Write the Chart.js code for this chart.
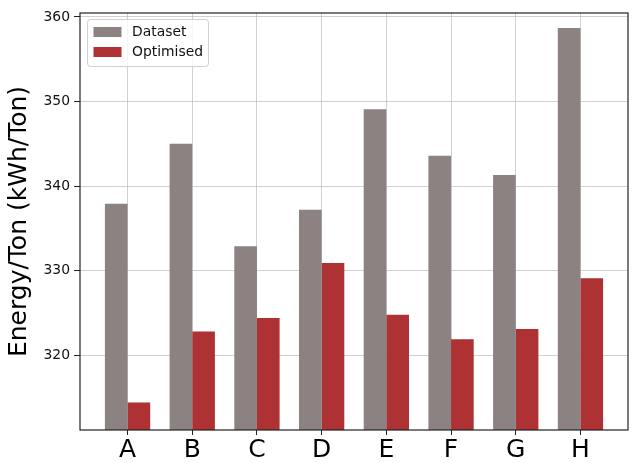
<!DOCTYPE html>
<html lang="en">
<head>
    <meta charset="UTF-8">
    <title>Energy per ton</title>
    <script src="https://cdn.jsdelivr.net/npm/chart.js"></script>
    <style>
        body { margin: 0; background: #fff; }
        canvas { display: block; }
    </style>
</head>
<body>
    <canvas id="grafico" width="634" height="463"></canvas>
    <script>
        // Sites and energy per ton, original vs optimised
        const categorias = ["A", "B", "C", "D", "E", "F", "G", "H"];
        const dataset = [337.9, 345.0, 332.9, 337.2, 349.1, 343.6, 341.3, 358.7];
        const optimised = [314.4, 322.8, 324.4, 330.9, 324.8, 321.9, 323.1, 329.1];
        const yTicks = [320, 330, 340, 350, 360];
        const yMin = 311.16, yMax = 360.47;

        const fuente = "'DejaVu Sans', sans-serif";
        const colorGris = "rgb(139,130,129)";
        const colorRojo = "rgb(174,49,52)";

        // puntos {x, y} para el eje x lineal
        const puntos = arr => arr.map((v, i) => ({ x: i, y: v }));

        // marco de los ejes y leyenda dentro del área
        const marcoYLeyenda = {
            id: "marcoYLeyenda",
            afterDatasetsDraw(chart) {
                const ctx = chart.ctx;
                const a = chart.chartArea;
                ctx.save();
                ctx.strokeStyle = "#222";
                ctx.lineWidth = 1.2;
                ctx.strokeRect(a.left, a.top, a.right - a.left, a.bottom - a.top);

                // caja de la leyenda
                const bx = a.left + 7, by = a.top + 6, bw = 121, bh = 47;
                ctx.beginPath();
                ctx.roundRect(bx + 0.5, by + 0.5, bw, bh, 3);
                ctx.fillStyle = "rgba(255,255,255,0.8)";
                ctx.fill();
                ctx.strokeStyle = "#d0d0d0";
                ctx.lineWidth = 1;
                ctx.stroke();

                ctx.font = "13.9px " + fuente;
                ctx.textBaseline = "middle";
                ctx.textAlign = "left";
                chart.data.datasets.forEach((ds, i) => {
                    const y = by + 8 + i * 20;
                    ctx.fillStyle = ds.backgroundColor;
                    ctx.fillRect(bx + 6.5, y, 28, 10);
                    ctx.fillStyle = "#111";
                    ctx.fillText(ds.label, bx + 45, y + 5);
                });
                ctx.restore();
            }
        };

        new Chart(document.getElementById("grafico"), {
            type: "bar",
            data: {
                datasets: [
                    { label: "Dataset", data: puntos(dataset), backgroundColor: colorGris },
                    { label: "Optimised", data: puntos(optimised), backgroundColor: colorRojo }
                ]
            },
            options: {
                responsive: false,
                animation: false,
                categoryPercentage: 0.7,
                barPercentage: 1.0,
                layout: { padding: { top: 13, right: 6, left: 0, bottom: 0 } },
                plugins: { legend: { display: false }, tooltip: { enabled: false } },
                scales: {
                    x: {
                        type: "linear",
                        offset: false,
                        min: -0.735,
                        max: 7.735,
                        afterFit: s => { s.height = 33; },
                        border: { display: false },
                        grid: { offset: false, color: "rgba(176,176,176,0.6)", tickColor: "#222", tickLength: 5 },
                        ticks: {
                            stepSize: 1,
                            includeBounds: false,
                            autoSkip: false,
                            maxRotation: 0,
                            padding: 0,
                            color: "#000",
                            font: { family: fuente, size: 25 },
                            callback: v => categorias[v] ?? ""
                        }
                    },
                    y: {
                        min: yMin,
                        max: yMax,
                        afterFit: s => { s.width = 80; },
                        afterBuildTicks: s => { s.ticks = yTicks.map(v => ({ value: v })); },
                        border: { display: false },
                        grid: { color: "rgba(176,176,176,0.6)", tickColor: "#222", tickLength: 6 },
                        ticks: {
                            padding: 4,
                            color: "#111",
                            font: { family: fuente, size: 13.9 }
                        },
                        title: {
                            display: true,
                            text: "Energy/Ton (kWh/Ton)",
                            color: "#000",
                            padding: { top: 4, bottom: 0 },
                            font: { family: fuente, size: 25 }
                        }
                    }
                }
            },
            plugins: [marcoYLeyenda]
        });
    </script>
</body>
</html>
